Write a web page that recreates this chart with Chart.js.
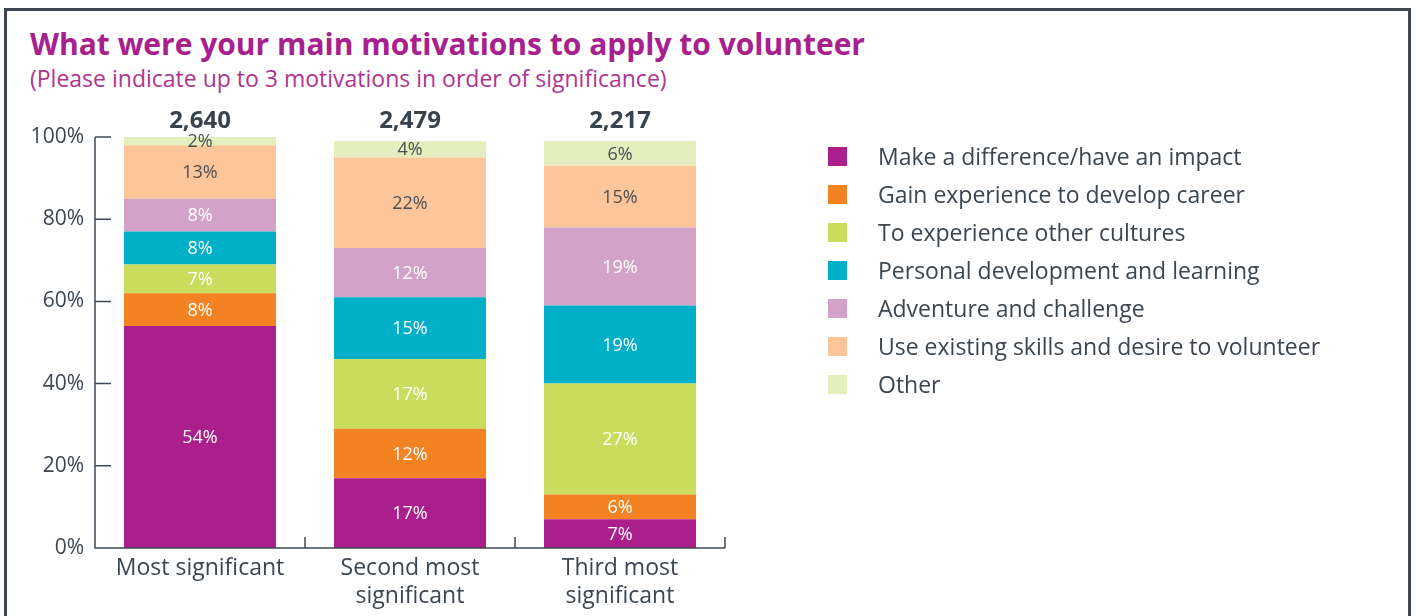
<!DOCTYPE html>
<html>
<head>
<meta charset="utf-8">
<script src="https://cdn.jsdelivr.net/npm/chart.js@4"></script>
<style>
  html, body { margin: 0; padding: 0; background: #fff; }
  body { width: 1416px; height: 616px; position: relative; overflow: hidden; font-family: 'Open Sans', sans-serif; }
  #frame { position: absolute; left: 4px; top: 8px; width: 1401px; height: 700px; border: 3px solid #3f4852; }
  #title { position: absolute; left: 30px; top: 23px; font-family: 'Open Sans', sans-serif; font-weight: 700; font-size: 30px; color: #a8208e; white-space: nowrap; }
  #subtitle { position: absolute; left: 30px; top: 62px; font-size: 23px; color: #b0348f; white-space: nowrap; }
  #chart { position: absolute; left: 0; top: 0; }
  #legend { position: absolute; left: 828px; top: 142px; }
  .item { height: 38px; position: relative; white-space: nowrap; }
  .box { position: absolute; left: 0; top: 5px; width: 19px; height: 19px; }
  .lbl { position: absolute; left: 50px; top: -2px; font-size: 23px; color: #3c4650; }
</style>
</head>
<body>
<div id="frame"></div>
<div id="title">What were your main motivations to apply to volunteer</div>
<div id="subtitle">(Please indicate up to 3 motivations in order of significance)</div>
<canvas id="chart" width="1416" height="616"></canvas>
<div id="legend"></div>
<script>
// data
const categories = [['Most significant'], ['Second most', 'significant'], ['Third most', 'significant']];
const totals = ['2,640', '2,479', '2,217'];
const seriesNames = [
  'Make a difference/have an impact',
  'Gain experience to develop career',
  'To experience other cultures',
  'Personal development and learning',
  'Adventure and challenge',
  'Use existing skills and desire to volunteer',
  'Other'
];
const impact     = [54, 17, 7];
const career     = [8, 12, 6];
const cultures   = [7, 17, 27];
const personal   = [8, 15, 19];
const adventure  = [8, 12, 19];
const skills     = [13, 22, 15];
const other      = [2, 4, 6];
const yTicks = [0, 20, 40, 60, 80, 100];

const colors = ['#ab1f8d', '#f38322', '#c9dc5c', '#00b0c8', '#d3a2c9', '#fcc69a', '#e5eebf'];
const labelColors = ['#fff', '#fff', '#fff', '#fff', '#fff', '#4b4f54', '#4b4f54'];
const axisColor = '#3f4852';

Chart.defaults.font.family = "'Open Sans', sans-serif";

const seriesData = [impact, career, cultures, personal, adventure, skills, other];

// values inside segments
const segLabels = {
  id: 'segLabels',
  afterDatasetsDraw(chart) {
    const ctx = chart.ctx;
    ctx.save();
    ctx.font = "18px 'Open Sans'";
    ctx.textAlign = 'center';
    ctx.textBaseline = 'middle';
    chart.data.datasets.forEach((ds, i) => {
      chart.getDatasetMeta(i).data.forEach((el, j) => {
        ctx.fillStyle = labelColors[i];
        ctx.fillText(ds.data[j] + '%', el.x, (el.y + el.base) / 2 + 1);
      });
    });
    ctx.restore();
  }
};

// axis lines, inward tick marks and totals above the bars
const axesAndTotals = {
  id: 'axesAndTotals',
  afterDraw(chart) {
    const ctx = chart.ctx;
    const x = chart.scales.x, y = chart.scales.y;
    const left = chart.chartArea.left, right = chart.chartArea.right;
    const bottom = y.getPixelForValue(0), top = y.getPixelForValue(100);
    ctx.save();
    ctx.strokeStyle = axisColor;
    ctx.lineWidth = 1.5;
    ctx.beginPath();
    ctx.moveTo(left, top); ctx.lineTo(left, bottom); ctx.lineTo(right, bottom);
    yTicks.forEach(v => {
      const py = y.getPixelForValue(v);
      ctx.moveTo(left, py); ctx.lineTo(left + 16, py);
    });
    for (let k = 1; k <= categories.length; k++) {
      const px = left + (right - left) * k / categories.length;
      ctx.moveTo(px, bottom); ctx.lineTo(px, bottom - 11);
    }
    ctx.stroke();

    ctx.fillStyle = '#37424c';
    ctx.font = "bold 24px 'Open Sans'";
    ctx.textAlign = 'center';
    ctx.textBaseline = 'middle';
    totals.forEach((t, j) => {
      ctx.fillText(t, x.getPixelForValue(j), top - 16);
    });
    ctx.restore();
  }
};

new Chart(document.getElementById('chart'), {
  type: 'bar',
  data: {
    labels: categories,
    datasets: seriesNames.map((name, i) => ({
      label: name,
      data: seriesData[i],
      backgroundColor: colors[i],
      borderWidth: 0,
      barPercentage: 0.724,
      categoryPercentage: 1
    }))
  },
  options: {
    responsive: false,
    animation: false,
    layout: { padding: { left: 0, top: 137, right: 691, bottom: 0 } },
    plugins: { legend: { display: false }, tooltip: { enabled: false } },
    scales: {
      x: {
        stacked: true,
        grid: { display: false, drawTicks: false },
        border: { display: false },
        ticks: { color: '#3c4650', font: { size: 23, lineHeight: 1.2 }, padding: 7, maxRotation: 0 },
        afterFit(s) { s.height = 68; }
      },
      y: {
        stacked: true,
        min: 0,
        max: 100,
        grid: { display: false, drawTicks: false },
        border: { display: false },
        afterBuildTicks(s) { s.ticks = yTicks.map(v => ({ value: v })); },
        ticks: { color: '#3c4650', font: { size: 21 }, padding: 11, callback: v => v + '%' },
        afterFit(s) { s.width = 95; }
      }
    }
  },
  plugins: [segLabels, axesAndTotals]
});

// legend
const legend = document.getElementById('legend');
seriesNames.forEach((name, i) => {
  const item = document.createElement('div');
  item.className = 'item';
  item.innerHTML = '<span class="box" style="background:' + colors[i] + '"></span><span class="lbl">' + name + '</span>';
  legend.appendChild(item);
});
</script>
</body>
</html>
